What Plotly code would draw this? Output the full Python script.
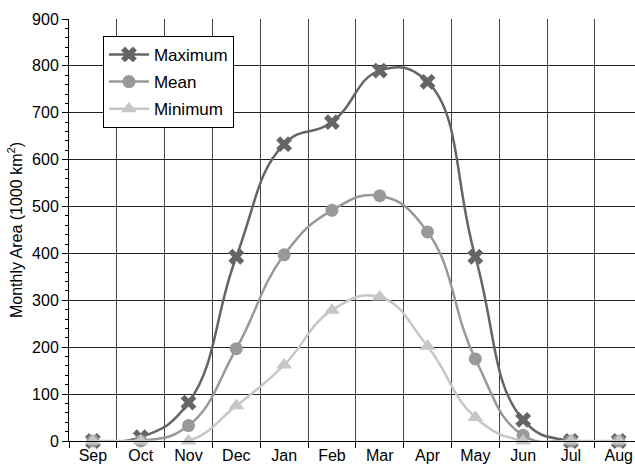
import plotly.graph_objects as go

months = ["Sep", "Oct", "Nov", "Dec", "Jan", "Feb", "Mar", "Apr", "May", "Jun", "Jul", "Aug"]
maximum = [0, 8, 82, 393, 633, 680, 790, 766, 393, 45, 0, 0]
mean = [0, 0, 33, 197, 397, 492, 523, 446, 175, 12, 0, 0]
minimum = [0, 0, 0, 75, 162, 279, 307, 202, 50, 0, 0, 0]

FONT = "Liberation Sans, Arial, Helvetica, sans-serif"

fig = go.Figure()
series = [
    ("Maximum", maximum, "#656565", "x", 14),
    ("Mean", mean, "#999999", "circle", 13),
    ("Minimum", minimum, "#c6c6c6", "triangle-up", 14),
]
for name, vals, col, sym, sz in series:
    fig.add_trace(go.Scatter(
        x=months, y=vals, name=name, legendgroup=name,
        mode="lines+markers", cliponaxis=False,
        line=dict(color=col, width=2.5, shape="spline", smoothing=1.3),
        marker=dict(color=col, symbol=sym, size=sz, line=dict(width=0)),
    ))

fig.update_layout(
    width=635, height=465,
    margin=dict(l=69, r=0, t=19, b=24),
    paper_bgcolor="white", plot_bgcolor="white",
    font=dict(family=FONT, size=16, color="black"),
    showlegend=True,
    legend=dict(
        x=0.06, y=0.96, xanchor="left", yanchor="top",
        bgcolor="white", bordercolor="black", borderwidth=1,
        font=dict(size=17), tracegroupgap=2, itemwidth=40,
    ),
    xaxis=dict(
        type="category", categoryorder="array", categoryarray=months,
        range=[-0.5, 11.34], tickson="boundaries",
        ticks="outside", ticklen=6, tickcolor="black",
        showgrid=True, gridcolor="#444444", gridwidth=1,
        showline=True, linecolor="black", linewidth=1,
        tickfont=dict(size=16),
    ),
    yaxis=dict(
        range=[0, 900], dtick=100, tick0=0,
        ticks="outside", ticklen=6, tickcolor="black",
        minor=dict(dtick=20, ticks="outside", ticklen=3, tickcolor="black", showgrid=False),
        showgrid=True, gridcolor="#222222", gridwidth=1,
        showline=True, linecolor="black", linewidth=1, zeroline=False,
        tickfont=dict(size=16),
        title=dict(text="Monthly Area (1000 km<sup>2</sup>)", font=dict(size=16), standoff=5),
    ),
)

fig.write_html("out.html", config={"displayModeBar": False},
               post_script="document.body.style.margin='0';")
